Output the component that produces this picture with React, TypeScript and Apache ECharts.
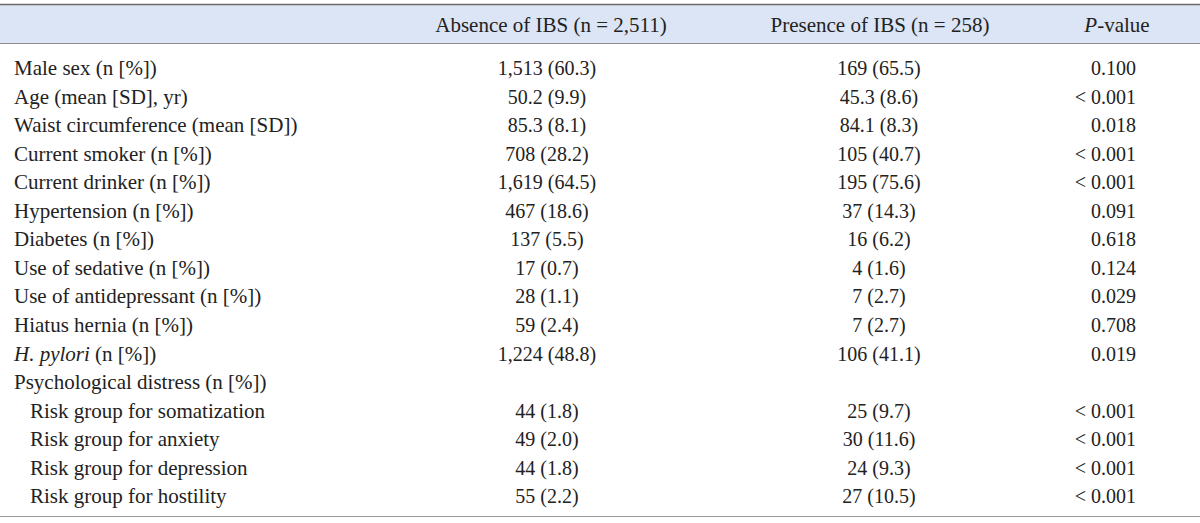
import React, { useEffect, useRef } from "react";
import * as echarts from "echarts";

const headers = ["Absence of IBS (n = 2,511)", "Presence of IBS (n = 258)", "{i|P}-value"];

const rowLabels = [
  "Male sex (n [%])",
  "Age (mean [SD], yr)",
  "Waist circumference (mean [SD])",
  "Current smoker (n [%])",
  "Current drinker (n [%])",
  "Hypertension (n [%])",
  "Diabetes (n [%])",
  "Use of sedative (n [%])",
  "Use of antidepressant (n [%])",
  "Hiatus hernia (n [%])",
  "{i|H. pylori} (n [%])",
  "Psychological distress (n [%])",
  "Risk group for somatization",
  "Risk group for anxiety",
  "Risk group for depression",
  "Risk group for hostility",
];

const indented = [false, false, false, false, false, false, false, false, false, false, false, false, true, true, true, true];

const absenceValues = [
  "1,513 (60.3)", "50.2 (9.9)", "85.3 (8.1)", "708 (28.2)", "1,619 (64.5)", "467 (18.6)",
  "137 (5.5)", "17 (0.7)", "28 (1.1)", "59 (2.4)", "1,224 (48.8)", "",
  "44 (1.8)", "49 (2.0)", "44 (1.8)", "55 (2.2)",
];

const presenceValues = [
  "169 (65.5)", "45.3 (8.6)", "84.1 (8.3)", "105 (40.7)", "195 (75.6)", "37 (14.3)",
  "16 (6.2)", "4 (1.6)", "7 (2.7)", "7 (2.7)", "106 (41.1)", "",
  "25 (9.7)", "30 (11.6)", "24 (9.3)", "27 (10.5)",
];

const pValues = [
  "0.100", "< 0.001", "0.018", "< 0.001", "< 0.001", "0.091",
  "0.618", "0.124", "0.029", "0.708", "0.019", "",
  "< 0.001", "< 0.001", "< 0.001", "< 0.001",
];

const FONT = "'Liberation Serif', 'Times New Roman', serif";
const NUM_SIZE = 20;
const LABEL_SIZE = 21;
const COLOR = "#222222";

export default function App() {
  const ref = useRef<HTMLDivElement>(null);

  useEffect(() => {
    if (!ref.current) return;
    const chart = echarts.init(ref.current, undefined, { renderer: "svg" });

    const W = 1200;
    const firstRowY = 68;
    const rowStep = 28.55;
    const headerY = 25;
    const colAbsence = 547;
    const colPresence = 879;
    const colPRight = 1136;
    const colPHeader = 1117;

    const txt = (text: string, x: number, y: number, align: string, size: number) => ({
      type: "text",
      x,
      y,
      silent: true,
      style: {
        text,
        fontFamily: FONT,
        fontSize: size,
        fill: COLOR,
        align,
        verticalAlign: "middle",
        rich: { i: { fontStyle: "italic", fontFamily: FONT, fontSize: size, fill: COLOR } },
      },
    });

    const elements: any[] = [];
    elements.push({ type: "rect", shape: { x: 0, y: 5, width: W, height: 38 }, style: { fill: "#dbe5f5" }, silent: true });
    elements.push({ type: "line", shape: { x1: 0, y1: 4.5, x2: W, y2: 4.5 }, style: { stroke: "#6a6a6a", lineWidth: 1.6 }, silent: true });
    elements.push({ type: "line", shape: { x1: 0, y1: 43.5, x2: W, y2: 43.5 }, style: { stroke: "#8c8c8c", lineWidth: 1 }, silent: true });
    elements.push({ type: "line", shape: { x1: 0, y1: 516.5, x2: W, y2: 516.5 }, style: { stroke: "#9a9a9a", lineWidth: 1 }, silent: true });

    elements.push(txt(headers[0], 551, headerY, "center", LABEL_SIZE));
    elements.push(txt(headers[1], 880, headerY, "center", LABEL_SIZE));
    elements.push(txt(headers[2], colPHeader, headerY, "center", LABEL_SIZE));

    rowLabels.forEach((label, i) => {
      const y = firstRowY + i * rowStep;
      elements.push(txt(label, indented[i] ? 30 : 14, y, "left", LABEL_SIZE));
      if (absenceValues[i]) elements.push(txt(absenceValues[i], colAbsence, y, "center", NUM_SIZE));
      if (presenceValues[i]) elements.push(txt(presenceValues[i], colPresence, y, "center", NUM_SIZE));
      if (pValues[i]) elements.push(txt(pValues[i], colPRight, y, "right", NUM_SIZE));
    });

    chart.setOption({
      animation: false,
      backgroundColor: "#ffffff",
      graphic: { elements },
    });

    return () => chart.dispose();
  }, []);

  return (
    <div
      ref={ref}
      style={{ position: "fixed", left: 0, top: 0, width: 1200, height: 523, background: "#fff" }}
    />
  );
}
